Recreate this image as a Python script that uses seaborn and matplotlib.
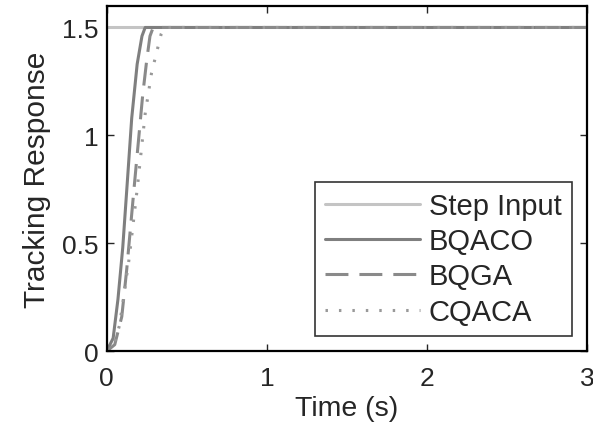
import pandas as pd
import seaborn as sns
import matplotlib.pyplot as plt

# 数据
step_t = [0, 3]
step_y = [1.5, 1.5]

bqaco_t = [0, 0.04, 0.07, 0.1, 0.13, 0.156, 0.19, 0.22, 0.24, 0.26, 3]
bqaco_y = [0, 0.06, 0.24, 0.48, 0.8, 1.08, 1.33, 1.46, 1.5, 1.5, 1.5]

bqga_t = [0, 0.05, 0.094, 0.125, 0.17, 0.225, 0.25, 0.27, 0.29, 3]
bqga_y = [0, 0.03, 0.16, 0.38, 0.75, 1.19, 1.35, 1.46, 1.5, 1.5]

cqaca_t = [0, 0.04, 0.08, 0.14, 0.19, 0.24, 0.28, 0.32, 0.34, 0.36, 3]
cqaca_y = [0, 0.02, 0.12, 0.43, 0.75, 1.1, 1.29, 1.41, 1.47, 1.5, 1.5]

sns.set_style("white")
plt.rcParams['font.family'] = ['Liberation Sans', 'DejaVu Sans']

fig = plt.figure(figsize=(5.93, 4.31), dpi=100)
ax = fig.add_axes([0.18, 0.183, 0.81, 0.801])

sns.lineplot(x=step_t, y=step_y, ax=ax, color="#c4c4c4", lw=2.2, label="Step Input")
sns.lineplot(x=bqaco_t, y=bqaco_y, ax=ax, color="#7f7f7f", lw=2.2, label="BQACO")
sns.lineplot(x=bqga_t, y=bqga_y, ax=ax, color="#8a8a8a", lw=2.2, ls=(0, (7.5, 3.6)), label="BQGA")
sns.lineplot(x=cqaca_t, y=cqaca_y, ax=ax, color="#999999", lw=2.2, ls=(0, (0.8, 3.6)), label="CQACA")

ax.set_xlim(0, 3)
ax.set_ylim(0, 1.6)
ax.set_xticks([0, 1, 2, 3])
ax.set_yticks([0, 0.5, 1, 1.5])
ax.set_yticklabels(["0", "0.5", "1", "1.5"])
ax.tick_params(direction="in", length=5, width=1, labelsize=19, top=True, right=True,
               left=True, bottom=True, labeltop=False, labelright=False)
ax.tick_params(axis="x", pad=11)
ax.tick_params(axis="y", pad=6)
for s in ax.spines.values():
    s.set_color("black")
    s.set_linewidth(1.6)

ax.set_xlabel("Time (s)", fontsize=20.5, labelpad=3)
ax.set_ylabel("Tracking Response", fontsize=21.5, labelpad=8)

leg = ax.legend(loc="lower right", fontsize=21, frameon=True, fancybox=False,
                handlelength=3.25, borderpad=0.35, labelspacing=0.25, handletextpad=0.3,
                borderaxespad=0.52)
leg.get_frame().set_edgecolor("black")
leg.get_frame().set_linewidth(1.2)

fig.savefig("out.png", dpi=100)
